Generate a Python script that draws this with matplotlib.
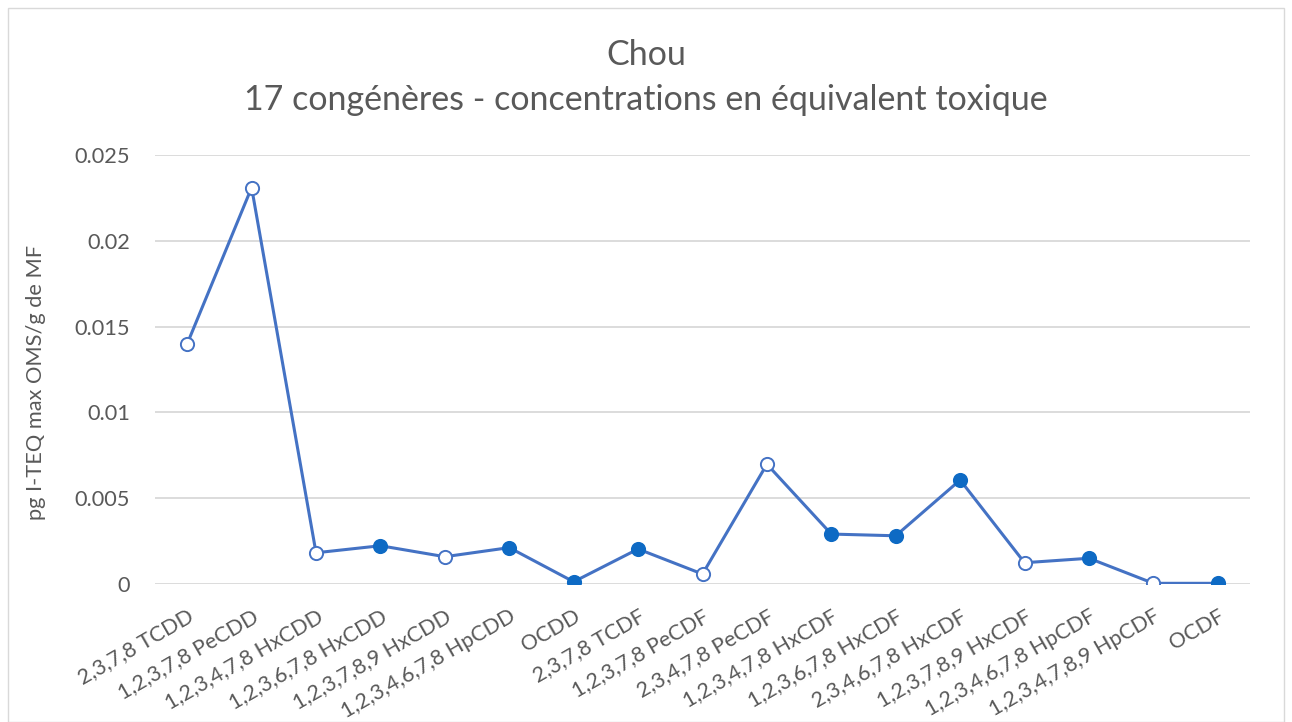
import matplotlib
matplotlib.use("Agg")
import matplotlib.pyplot as plt
from matplotlib.patches import Rectangle

categories = ["2,3,7,8 TCDD", "1,2,3,7,8 PeCDD", "1,2,3,4,7,8 HxCDD", "1,2,3,6,7,8 HxCDD",
              "1,2,3,7,8,9 HxCDD", "1,2,3,4,6,7,8 HpCDD", "OCDD", "2,3,7,8 TCDF",
              "1,2,3,7,8 PeCDF", "2,3,4,7,8 PeCDF", "1,2,3,4,7,8 HxCDF", "1,2,3,6,7,8 HxCDF",
              "2,3,4,6,7,8 HxCDF", "1,2,3,7,8,9 HxCDF", "1,2,3,4,6,7,8 HpCDF",
              "1,2,3,4,7,8,9 HpCDF", "OCDF"]
values = [0.0140, 0.0231, 0.00182, 0.00223, 0.00159, 0.00212, 0.00013, 0.00204,
          0.00058, 0.00698, 0.00291, 0.00281, 0.00606, 0.00124, 0.00150, 0.00004, 0.00004]
filled = [False, False, False, True, False, True, True, True,
          False, False, True, True, True, False, True, False, True]
yticks = [0, 0.005, 0.01, 0.015, 0.02, 0.025]
ytick_labels = ["0", "0.005", "0.01", "0.015", "0.02", "0.025"]

plt.rcParams['font.family'] = ['Lato', 'DejaVu Sans']
txt = '#595959'
line_c = '#4472C4'
fill_c = '#0E6AC4'

fig = plt.figure(figsize=(12.92, 7.22), dpi=100)
fig.patches.append(Rectangle((8/1292, 0.0), 1276/1292, 1-8/722, transform=fig.transFigure,
                             fill=False, edgecolor='#D9D9D9', linewidth=1))
ax = fig.add_axes([155/1292, 1-584/722, 1095/1292, 429/722])

x = list(range(len(categories)))
ax.plot(x, values, color=line_c, linewidth=2.2, zorder=2)
for xi, v, f in zip(x, values, filled):
    ax.plot([xi], [v], marker='o', markersize=9.5, linestyle='none',
            markerfacecolor=(fill_c if f else 'white'),
            markeredgecolor=(fill_c if f else line_c), markeredgewidth=1.4, zorder=3)

ax.set_xlim(-0.5, len(categories) - 0.5)
ax.set_ylim(0, 0.025)
ax.set_yticks(yticks)
ax.set_yticklabels(ytick_labels, color=txt, fontsize=15.7)
ax.set_xticks(x)
ax.set_xticklabels(categories, rotation=30, ha='right', va='top', rotation_mode='anchor',
                   color=txt, fontsize=15.5)
ax.tick_params(axis='x', length=0, pad=16)
ax.tick_params(axis='y', length=0, pad=18)
ax.grid(axis='y', color='#D9D9D9', linewidth=1.3)
ax.set_axisbelow(True)
for s in ax.spines.values():
    s.set_visible(False)
ax.set_ylabel("pg I-TEQ max OMS/g de MF", color=txt, fontsize=15.7)
ax.yaxis.set_label_coords(-0.0995, 0.47)

fig.text(0.5, 1-55/722, "Chou", ha='center', va='center', color=txt, fontsize=24.5)
fig.text(0.5, 1-100/722, "17 congénères - concentrations en équivalent toxique",
         ha='center', va='center', color=txt, fontsize=24.5)

fig.savefig("out.png", dpi=100)
